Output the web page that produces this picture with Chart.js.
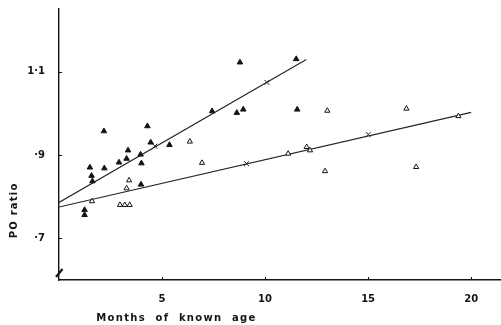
<!DOCTYPE html>
<html>
<head>
<meta charset="utf-8">
<script src="https://cdn.jsdelivr.net/npm/chart.js@4/dist/chart.umd.min.js"></script>
<style>
  html, body { margin: 0; padding: 0; background: #fff; }
  #wrap { width: 501px; height: 325px; }
</style>
</head>
<body>
<div id="wrap"><canvas id="c" width="501" height="325"></canvas></div>
<script>
// ---- data ----
const filledX = [1.24, 1.24, 1.50, 1.58, 1.62, 2.18, 2.20, 2.91, 3.28, 3.35, 3.96, 4.00, 3.98, 4.29, 4.45, 5.36, 7.43, 8.63, 8.94, 8.78, 11.51, 11.56];
const filledY = [0.768, 0.756, 0.870, 0.850, 0.837, 0.957, 0.868, 0.882, 0.891, 0.911, 0.901, 0.880, 0.829, 0.969, 0.930, 0.924, 1.005, 1.001, 1.009, 1.122, 1.130, 1.009];

const openX = [1.60, 2.96, 3.19, 3.43, 3.40, 3.28, 6.35, 6.94, 11.12, 12.02, 12.18, 12.91, 13.02, 16.86, 17.33, 19.38];
const openY = [0.789, 0.780, 0.780, 0.780, 0.839, 0.820, 0.932, 0.881, 0.903, 0.919, 0.911, 0.861, 1.006, 1.011, 0.871, 0.993];

const line1X = [0, 12];
const line1Y = [0.786, 1.129];
const line2X = [0, 20];
const line2Y = [0.775, 1.002];

const meanX = [4.65, 10.09, 9.10, 15.01];
const meanY = [0.921, 1.074, 0.879, 0.949];

const xTicks = [5, 10, 15, 20];
const yTicks = [0.7, 0.9, 1.1];
const yTickLabels = ['·7', '·9', '1·1'];

const xTitle = 'Months of known age';
const yTitle = 'PO ratio';

const pts = (xs, ys) => xs.map((x, i) => ({ x: x, y: ys[i] }));

const INK = '#141414';
const FONT = 'DejaVu Sans';

const decor = {
  id: 'decor',
  afterDraw(chart) {
    const ctx = chart.ctx;
    const xs = chart.scales.x, ys = chart.scales.y;
    const a = chart.chartArea;
    ctx.save();
    ctx.strokeStyle = INK;
    ctx.lineWidth = 1;
    // inward tick marks
    yTicks.forEach(v => {
      const py = Math.round(ys.getPixelForValue(v)) + 0.5;
      ctx.beginPath(); ctx.moveTo(a.left, py); ctx.lineTo(a.left + 3, py); ctx.stroke();
    });
    xTicks.forEach(v => {
      const px = Math.round(xs.getPixelForValue(v)) + 0.5;
      ctx.beginPath(); ctx.moveTo(px, a.bottom); ctx.lineTo(px, a.bottom - 3); ctx.stroke();
    });
    // axis break mark
    ctx.lineWidth = 2.2;
    ctx.beginPath();
    ctx.moveTo(a.left - 3, a.bottom - 3);
    ctx.lineTo(a.left + 3.5, a.bottom - 11);
    ctx.stroke();
    // titles
    ctx.fillStyle = INK;
    ctx.font = 'bold 10px "' + FONT + '"';
    ctx.textAlign = 'center';
    ctx.textBaseline = 'middle';
    try { ctx.letterSpacing = '1.3px'; } catch (e) {}
    ctx.fillText(xTitle.split(' ').join('  '), xs.getPixelForValue(5.7), a.bottom + 38);
    ctx.translate(a.left - 45, ys.getPixelForValue(0.767));
    ctx.rotate(-Math.PI / 2);
    try { ctx.letterSpacing = '1.2px'; } catch (e) {}
    ctx.fillText(yTitle, 0, 0);
    ctx.restore();
  }
};

const noPad = s => { s.paddingTop = 0; s.paddingBottom = 0; s.paddingLeft = 0; s.paddingRight = 0; };

new Chart(document.getElementById('c'), {
  type: 'scatter',
  data: {
    datasets: [
      {
        label: 'filled', data: pts(filledX, filledY), order: 1,
        pointStyle: 'triangle', pointRadius: 3.2, backgroundColor: INK, borderColor: INK, borderWidth: 1
      },
      {
        label: 'open', data: pts(openX, openY), order: 1,
        pointStyle: 'triangle', pointRadius: 3, backgroundColor: '#fff', borderColor: INK, borderWidth: 1
      },
      {
        label: 'means', data: pts(meanX, meanY), order: 1,
        pointStyle: 'crossRot', pointRadius: 3.5, backgroundColor: INK, borderColor: '#222', borderWidth: 1
      },
      {
        type: 'line', label: 'fit1', data: pts(line1X, line1Y), order: 2,
        borderColor: '#222', borderWidth: 1.1, pointRadius: 0, fill: false
      },
      {
        type: 'line', label: 'fit2', data: pts(line2X, line2Y), order: 2,
        borderColor: '#222', borderWidth: 1.1, pointRadius: 0, fill: false
      }
    ]
  },
  options: {
    responsive: false,
    animation: false,
    devicePixelRatio: 1,
    layout: { autoPadding: false, padding: { top: 9, right: 1, left: 0, bottom: 0 } },
    plugins: { legend: { display: false }, tooltip: { enabled: false } },
    scales: {
      x: {
        type: 'linear', min: 0, max: 21.4,
        afterBuildTicks: s => { s.ticks = xTicks.map(v => ({ value: v })); },
        afterFit: s => { s.height = 45; noPad(s); },
        grid: { display: true, drawOnChartArea: false, drawTicks: false },
        border: { display: true, color: INK, width: 1.6 },
        ticks: { padding: 13, color: INK, font: { family: FONT, size: 10, weight: 'bold' }, maxRotation: 0 }
      },
      y: {
        type: 'linear', min: 0.6, max: 1.25,
        afterBuildTicks: s => { s.ticks = yTicks.map(v => ({ value: v })); },
        afterFit: s => { s.width = 59; noPad(s); },
        grid: { display: true, drawOnChartArea: false, drawTicks: false },
        border: { display: true, color: INK, width: 1.4 },
        ticks: {
          padding: 14, color: INK, font: { family: FONT, size: 10, weight: 'bold' },
          callback: (v) => { const i = yTicks.findIndex(t => Math.abs(t - v) < 1e-6); return i >= 0 ? yTickLabels[i] : ''; }
        }
      }
    }
  },
  plugins: [decor]
});
</script>
</body>
</html>
